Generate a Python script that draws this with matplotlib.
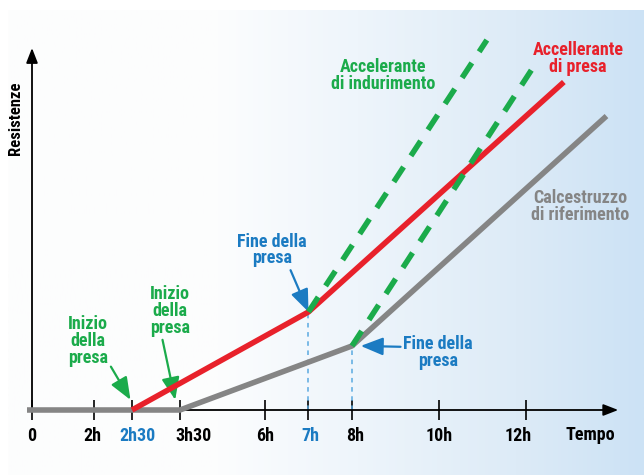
import numpy as np
import matplotlib
matplotlib.use("Agg")
import matplotlib.pyplot as plt
from matplotlib import font_manager as fm
from matplotlib.colors import LinearSegmentedColormap
from matplotlib.transforms import ScaledTranslation


def _bold_families():
    fams = set()
    for f in fm.fontManager.ttflist:
        w = f.weight
        if isinstance(w, str):
            w = {"bold": 700, "heavy": 800, "black": 900, "semibold": 600,
                 "demibold": 600}.get(w.lower(), 400)
        if w >= 700 and "talic" not in f.fname and "blique" not in f.fname:
            fams.add(f.name)
    return fams


_have = _bold_families()
_prefs = ["Nimbus Sans Narrow", "Liberation Sans Narrow", "Arial Narrow",
          "Roboto Condensed", "PT Sans Narrow", "Fira Sans Condensed",
          "IBM Plex Sans Condensed", "Barlow Semi Condensed", "Asap Condensed",
          "Barlow Condensed"]
FONT = next((f for f in _prefs if f in _have), "DejaVu Sans")
plt.rcParams['font.family'] = [FONT, 'DejaVu Sans']
plt.rcParams['font.weight'] = 'bold'

# --- data (time in hours, strength in relative units) ---
tick_hours = [0, 2, 2.5, 3.5, 6, 7, 8, 10, 12]
tick_labels = ["0", "2h", "2h30", "3h30", "6h", "7h", "8h", "10h", "12h"]
highlight_ticks = ["2h30", "7h"]

ref_t = [0.0, 3.5, 8.0, 13.85]          # Calcestruzzo di riferimento
ref_r = [0.0, 0.0, 17.7, 81.2]
set_t = [2.5, 7.0, 12.87]               # Accellerante di presa
set_r = [0.0, 27.1, 90.6]
hard1_t = [7.0, 11.1]                   # Accelerante di indurimento (from 7h)
hard1_r = [27.1, 102.2]
hard2_t = [8.0, 12.14]                  # Accelerante di indurimento (from 8h)
hard2_r = [17.7, 94.2]

# schematic time axis: piecewise-linear spacing between the labelled hours
SCALE_H = np.array([0.0, 2.0, 2.5, 3.5, 6.0, 14.0])
SCALE_U = np.array([32.0, 94.0, 132.0, 180.0, 265.0, 613.0])
_LO = (SCALE_U[1] - SCALE_U[0]) / (SCALE_H[1] - SCALE_H[0])
_HI = (SCALE_U[-1] - SCALE_U[-2]) / (SCALE_H[-1] - SCALE_H[-2])


def fwd(h):
    h = np.asarray(h, dtype=float)
    out = np.interp(h, SCALE_H, SCALE_U)
    out = np.where(h < SCALE_H[0], SCALE_U[0] + (h - SCALE_H[0]) * _LO, out)
    return np.where(h > SCALE_H[-1], SCALE_U[-1] + (h - SCALE_H[-1]) * _HI, out)


def inv(u):
    u = np.asarray(u, dtype=float)
    out = np.interp(u, SCALE_U, SCALE_H)
    out = np.where(u < SCALE_U[0], SCALE_H[0] + (u - SCALE_U[0]) / _LO, out)
    return np.where(u > SCALE_U[-1], SCALE_H[-1] + (u - SCALE_U[-1]) / _HI, out)


RED = "#e8212b"
GREEN = "#1bab4b"
GRAY = "#858585"
BLUE = "#1b7bc2"
LBLUE = "#5aaae0"
FS = 13

fig = plt.figure(figsize=(6.44, 4.75), dpi=100)

# background panel: white on the left fading to pale blue on the right
bg = fig.add_axes([8 / 644, 0, 1 - 8 / 644, (475 - 10) / 475])
bg.set_axis_off()
grad_cmap = LinearSegmentedColormap.from_list(
    "bgfade", [(0.0, "#fdfdfd"), (0.33, "#fcfdfe"), (0.55, "#eef5fb"),
               (0.8, "#ddebf7"), (1.0, "#cce2f5")])
bg.imshow(np.linspace(0, 1, 256)[None, :], aspect="auto", cmap=grad_cmap,
          extent=[0, 1, 0, 1])
bg.set_xlim(0, 1)
bg.set_ylim(0, 1)

ax = fig.add_axes([0, 0, 1, 1])
ax.patch.set_alpha(0)
ax.set_xscale("function", functions=(fwd, inv))
ax.set_xlim(float(inv(0.0)), float(inv(644.0)))
py_per_unit = 3.62
ax.set_ylim(-(475 - 410) / py_per_unit, 410 / py_per_unit)
for s in ax.spines.values():
    s.set_visible(False)
ax.spines['bottom'].set_position(('data', 0))
ax.set_yticks([])

# axes with arrow heads
head = "-|>,head_length=0.9,head_width=0.35"
ax.annotate("", xy=(14.12, 0), xytext=(0, 0),
            arrowprops=dict(arrowstyle=head, color="black", lw=1.3,
                            shrinkA=0, shrinkB=0))
ax.annotate("", xy=(0, 100), xytext=(0, 0),
            arrowprops=dict(arrowstyle=head, color="black", lw=1.3,
                            shrinkA=0, shrinkB=0))

ax.set_xticks(tick_hours)
ax.set_xticklabels(tick_labels, fontsize=FS, fontweight="bold")
ax.tick_params(axis="x", direction="inout", length=15, width=1.2, pad=5)
# a few labels sit slightly off their tick (pixel nudges)
label_nudge = {"2h30": 6, "3h30": 14, "12h": -8, "2h": -2, "8h": 3, "7h": 2}
for lab in ax.get_xticklabels():
    txt = lab.get_text()
    if txt in highlight_ticks:
        lab.set_color(BLUE)
    if txt in label_nudge:
        lab.set_transform(lab.get_transform() +
                          ScaledTranslation(label_nudge[txt] / 100, 0,
                                            fig.dpi_scale_trans))

ax.text(13.47, -7.0, "Tempo", fontsize=FS, fontweight="bold", ha="center", va="center")
ax.text(-0.52, 80.5, "Resistenze", fontsize=12, fontweight="bold", rotation=90,
        ha="center", va="center")

# guide lines down to the end of setting
ax.plot([7, 7], [0, set_r[1]], ls=(0, (3, 3)), color=LBLUE, lw=1.1, zorder=2)
ax.plot([8, 8], [0, ref_r[2]], ls=(0, (3, 3)), color=LBLUE, lw=1.1, zorder=2)

ax.plot(ref_t, ref_r, color=GRAY, lw=4, solid_capstyle="butt", zorder=3)
ax.plot([-0.15, 0], [0, 0], color=GRAY, lw=4, solid_capstyle="butt", zorder=3)
ax.plot(set_t, set_r, color=RED, lw=4, solid_capstyle="butt", zorder=4)
ax.plot(hard1_t, hard1_r, color=GREEN, lw=4, ls=(0, (3.2, 2.4)), zorder=5)
ax.plot(hard2_t, hard2_r, color=GREEN, lw=4, ls=(0, (3.2, 2.4)), zorder=5)

# series labels
ls = 0.92
ax.text(8.71, 92.3, "Accelerante\ndi indurimento", color=GREEN, fontsize=FS,
        ha="center", va="center", linespacing=ls)
ax.text(13.2, 97.0, "Accellerante\ndi presa", color=RED, fontsize=FS,
        ha="center", va="center", linespacing=ls)
ax.text(13.24, 56.1, "Calcestruzzo\ndi riferimento", color=GRAY, fontsize=FS,
        ha="center", va="center", linespacing=ls)

arrow_kw = dict(arrowstyle="-|>,head_length=1.05,head_width=0.42", lw=1.6,
                shrinkA=0, shrinkB=0)
ax.annotate("Fine della\npresa", xy=(7, set_r[1]), xytext=(6.16, 44.2),
            color=BLUE, fontsize=FS, ha="center", va="center", linespacing=ls,
            arrowprops=dict(color=BLUE, **arrow_kw, relpos=(0.75, 0)))
ax.annotate("Fine della\npresa", xy=(8.2, ref_r[2]), xytext=(9.98, 16.0),
            color=BLUE, fontsize=FS, ha="center", va="center", linespacing=ls,
            arrowprops=dict(color=BLUE, **arrow_kw, relpos=(0, 0.65)))
ax.annotate("Inizio\ndella\npresa", xy=(2.48, 2.8), xytext=(1.81, 19.0),
            color=GREEN, fontsize=FS, ha="center", va="center", linespacing=ls,
            arrowprops=dict(color=GREEN, **arrow_kw, relpos=(1.0, 0.1)))
ax.annotate("Inizio\ndella\npresa", xy=(3.4, 2.8), xytext=(3.29, 27.3),
            color=GREEN, fontsize=FS, ha="center", va="center", linespacing=ls,
            arrowprops=dict(color=GREEN, **arrow_kw, relpos=(0.3, 0)))

fig.savefig("out.png", dpi=100)
